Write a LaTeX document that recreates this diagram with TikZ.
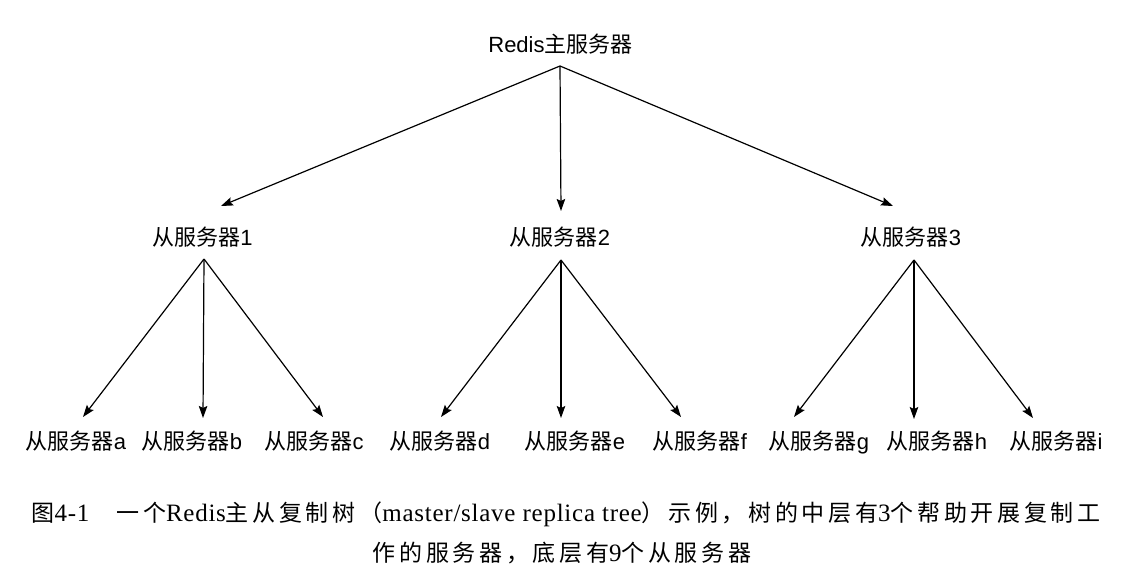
\documentclass[tikz,border=0pt]{standalone}
\usepackage{fontspec}
\setmainfont{Liberation Sans}
\newfontfamily\cjk{Noto Sans CJK SC}
\newfontfamily\capserif[LetterSpace=3]{Liberation Serif}
\newfontfamily\capcjk[LetterSpace=16]{Noto Sans CJK SC}
\newcommand\zh[1]{{\cjk #1}}
\newcommand\czh[1]{{\capcjk #1}}
\usetikzlibrary{arrows.meta}
\tikzset{
  lbl/.style={inner sep=0pt, anchor=base, font=\fontsize{22}{26}\selectfont},
  captext/.style={inner sep=0pt, anchor=base, font=\fontsize{25}{29}\selectfont\capserif},
  edge/.style={-{Stealth[length=12pt,width=8.5pt,inset=2pt]}, line width=1.2pt, black},
}
\begin{document}
\begin{tikzpicture}[x=1pt,y=-1pt]
\useasboundingbox (0,0) rectangle (1138,576);
% nodes
\node[lbl] (root) at (560.5,52.5) {Redis\zh{主服务器}};
\node[lbl] (m1) at (202.5,245.5) {\zh{从服务器}1};
\node[lbl] (m2) at (560,245.5) {\zh{从服务器}2};
\node[lbl] (m3) at (911,245.5) {\zh{从服务器}3};
\node[lbl] (a) at (76,449.5) {\zh{从服务器}a};
\node[lbl] (b) at (192,449.5) {\zh{从服务器}b};
\node[lbl] (c) at (314,449.5) {\zh{从服务器}c};
\node[lbl] (d) at (440,449.5) {\zh{从服务器}d};
\node[lbl] (e) at (575,449.5) {\zh{从服务器}e};
\node[lbl] (f) at (700,449.5) {\zh{从服务器}f};
\node[lbl] (g) at (819,449.5) {\zh{从服务器}g};
\node[lbl] (h) at (937,449.5) {\zh{从服务器}h};
\node[lbl] (i) at (1056,449.5) {\zh{从服务器}i};
% ports
\coordinate (root-out) at (560,66);
\coordinate (m1-in) at (221,206);
\coordinate (m2-in) at (561,211);
\coordinate (m3-in) at (893,206);
\coordinate (m1-out) at (204,259);
\coordinate (m2-out) at (561,260);
\coordinate (m3-out) at (914,260);
\coordinate (a-in) at (83,417);
\coordinate (b-in) at (203,418);
\coordinate (c-in) at (323,417);
\coordinate (d-in) at (441,417);
\coordinate (e-in) at (561,418);
\coordinate (f-in) at (681,417);
\coordinate (g-in) at (794,417);
\coordinate (h-in) at (914,419);
\coordinate (i-in) at (1033,418);
% connectors
\draw[edge] (root-out) -- (m1-in);
\draw[edge] (root-out) -- (m2-in);
\draw[edge] (root-out) -- (m3-in);
\draw[edge] (m1-out) -- (a-in);
\draw[edge] (m1-out) -- (b-in);
\draw[edge] (m1-out) -- (c-in);
\draw[edge] (m2-out) -- (d-in);
\draw[edge] (m2-out) -- (e-in);
\draw[edge] (m2-out) -- (f-in);
\draw[edge] (m3-out) -- (g-in);
\draw[edge] (m3-out) -- (h-in);
\draw[edge] (m3-out) -- (i-in);
% caption
\node[captext] (cap1) at (566,521.5) {\fontsize{23}{28}\czh{图}4-1\hspace{27pt}\czh{一个}Redis\czh{主从复制树（}master/slave replica tree\czh{）示例，树的中层有}3\czh{个帮助开展复制工}};
\node[captext] (cap2) at (562,561.5) {\fontsize{23}{28}\czh{作的服务器，底层有}9\czh{个从服务器}};
\end{tikzpicture}
\end{document}
